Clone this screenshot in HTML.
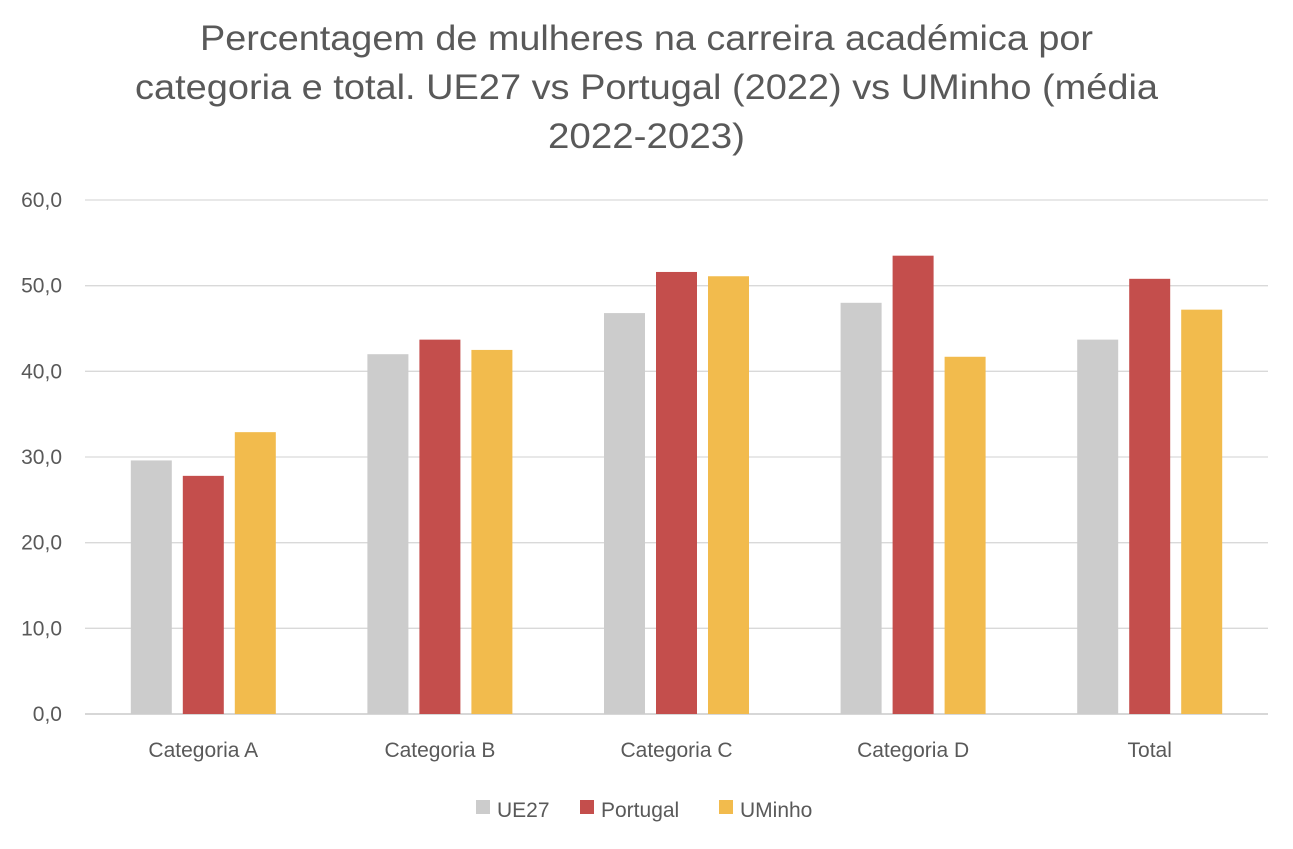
<!DOCTYPE html>
<html><head><meta charset="utf-8"><style>
body{margin:0;background:#fff;font-family:"Liberation Sans",sans-serif}
</style></head><body>
<svg id="chart" width="1293" height="844" xmlns="http://www.w3.org/2000/svg" font-family="Liberation Sans, sans-serif">
<rect width="1293" height="844" fill="#fff"/>
<g fill="#595959" font-size="35">
<text x="200" y="50" textLength="893" lengthAdjust="spacingAndGlyphs">Percentagem de mulheres na carreira académica por</text>
<text x="135" y="99" textLength="1023" lengthAdjust="spacingAndGlyphs">categoria e total. UE27 vs Portugal (2022) vs UMinho (média</text>
<text x="548" y="148" textLength="197" lengthAdjust="spacingAndGlyphs">2022-2023)</text>
</g>
<g id="grid"></g><g id="bars"></g><g id="labels"></g>
<g font-size="21" fill="#595959">
<rect x="476" y="800" width="14" height="14" fill="#cccccc"/><text x="497" y="817">UE27</text>
<rect x="580" y="800" width="14" height="14" fill="#c44e4c"/><text x="601" y="817">Portugal</text>
<rect x="719" y="800" width="14" height="14" fill="#f2bb4d"/><text x="740" y="817">UMinho</text>
</g>
</svg>
<script>
const categories=["Categoria A","Categoria B","Categoria C","Categoria D","Total"];
const ue27=[29.6,42.0,46.8,48.0,43.7];
const portugal=[27.8,43.7,51.6,53.5,50.8];
const uminho=[32.9,42.5,51.1,41.7,47.2];
const ticks=[0,10,20,30,40,50,60];
const NS="http://www.w3.org/2000/svg";
const x0=85,x1=1268,y0=714,y1=200,max=60;
const y=v=>y0-(v/max)*(y0-y1);
const band=(x1-x0)/categories.length;
const cx=i=>x0+band*(i+0.5);
function mk(t,a,p){const e=document.createElementNS(NS,t);for(const k in a)e.setAttribute(k,a[k]);p.appendChild(e);return e;}
const grid=document.getElementById('grid'),bars=document.getElementById('bars'),labels=document.getElementById('labels');
ticks.forEach(t=>{
 const l=mk('line',{x1:x0,x2:x1,y1:y(t),y2:y(t),stroke:t===0?'#bfbfbf':'#d9d9d9','stroke-width':1.3},grid);
 
 
 const tx=mk('text',{x:62,y:y(t)+7,'text-anchor':'end','font-size':21,fill:'#595959'},labels);
 tx.textContent=t.toFixed(1).replace('.',',');
 
 
});
const series=[[ue27,'#cccccc','ue27'],[portugal,'#c44e4c','portugal'],[uminho,'#f2bb4d','uminho']];
const bw=41,gap=11;
categories.forEach((c,i)=>{
 series.forEach(([d,col,n],j)=>{
  const bx=cx(i)+(j-1)*(bw+gap)-bw/2;
  const r=mk('rect',{x:bx,y:y(d[i]),width:bw,height:y0-y(d[i]),fill:col},bars);
  
  
 });
 const tx=mk('text',{x:cx(i),y:757,'text-anchor':'middle','font-size':21,fill:'#595959'},labels);
 tx.textContent=c;
 
 
});
</script>
</body></html>
